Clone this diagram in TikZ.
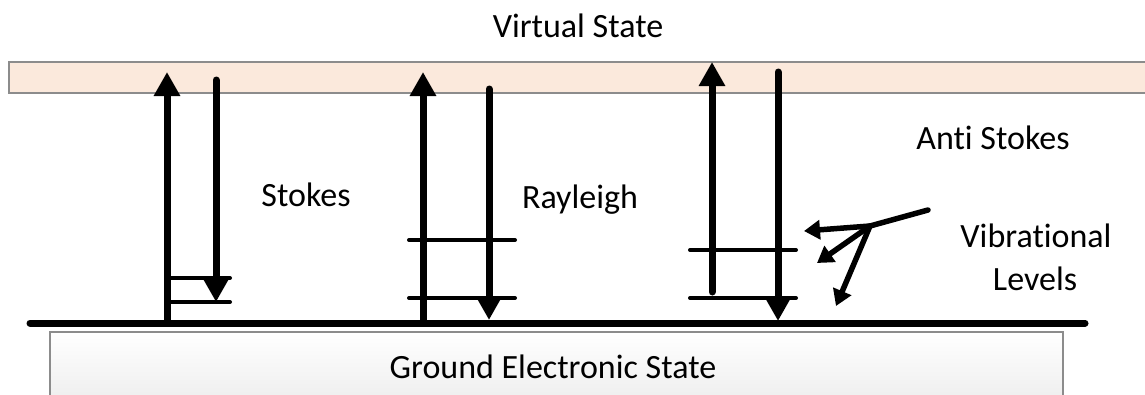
\documentclass[tikz,border=0pt]{standalone}
\usepackage{fontspec}
\setmainfont[Ligatures={NoCommon}]{Carlito}
\usetikzlibrary{arrows.meta}
\definecolor{bandfill}{RGB}{251,233,220}
\definecolor{boxedge}{RGB}{140,140,140}
\definecolor{boxbot}{RGB}{236,236,236}
\tikzset{
  lbl/.style={anchor=base, inner sep=0pt, font=\fontsize{34}{40}\selectfont},
  photon/.style={line width=7pt, line cap=round, -{Triangle[width=25pt,length=24pt]}},
  level/.style={line width=4pt, line cap=round},
  pointer/.style={line width=5.5pt, line cap=round, -{Triangle[width=19pt,length=16pt]}},
}
\begin{document}
\begin{tikzpicture}[x=1pt,y=-1pt]
\useasboundingbox (0,0) rectangle (1145,394);
\clip (0,0) rectangle (1145,394);
% virtual state band
\draw[boxedge, fill=bandfill, line width=1.2pt] (9,62) rectangle (1160,93);
\node[lbl] (vs) at (578,37) {Virtual State};
% ground electronic state box
\shade[top color=white, bottom color=boxbot] (50,332) rectangle (1063,410);
\draw[boxedge, line width=1.2pt] (50,410) -- (50,332) -- (1063,332) -- (1063,410);
\node[lbl] (ges) at (553,378) {Ground Electronic State};
% ground line
\coordinate (gl) at (30,323);
\coordinate (gr) at (1085,323);
\draw[line width=7pt, line cap=round] (gl) -- (gr);
% Stokes
\coordinate (s1) at (170,278); \coordinate (s1e) at (230,278);
\coordinate (s2) at (170,302); \coordinate (s2e) at (230,302);
\draw[level] (s1) -- (s1e);
\draw[level] (s2) -- (s2e);
\coordinate (su0) at (167,323); \coordinate (su1) at (167,72);
\coordinate (sd0) at (216,80); \coordinate (sd1) at (216,302);
\draw[photon, line cap=butt] (su0) -- (su1);
\draw[photon] (sd0) -- (sd1);
\node[lbl] (stokes) at (306,206) {Stokes};
% Rayleigh
\coordinate (r1) at (409,240); \coordinate (r1e) at (515,240);
\coordinate (r2) at (409,298); \coordinate (r2e) at (515,298);
\draw[level] (r1) -- (r1e);
\draw[level] (r2) -- (r2e);
\coordinate (ru0) at (423,323); \coordinate (ru1) at (423,72);
\coordinate (rd0) at (489,89); \coordinate (rd1) at (489,320);
\draw[photon] (ru0) -- (ru1);
\draw[photon] (rd0) -- (rd1);
\node[lbl] (rayleigh) at (580,208) {Rayleigh};
% Anti Stokes
\coordinate (a1) at (690,250); \coordinate (a1e) at (796,250);
\coordinate (a2) at (690,298); \coordinate (a2e) at (796,298);
\draw[level] (a1) -- (a1e);
\draw[level] (a2) -- (a2e);
\coordinate (au0) at (712,292); \coordinate (au1) at (712,62);
\coordinate (ad0) at (778,72); \coordinate (ad1) at (778,321);
\draw[photon] (au0) -- (au1);
\draw[photon] (ad0) -- (ad1);
\node[lbl] (anti) at (993,149) {Anti Stokes};
% vibrational levels pointers
\coordinate (p0) at (928,210);
\coordinate (pj) at (870,226);
\coordinate (pa) at (804,231);
\coordinate (pb) at (817,263);
\coordinate (pc) at (836,306);
\draw[pointer] (p0) -- (pj) -- (pa);
\draw[pointer] (pj) -- (pb);
\draw[pointer] (pj) -- (pc);
\node[lbl] (vib) at (1036,247) {Vibrational};
\node[lbl] (lev) at (1035,290) {Levels};
\end{tikzpicture}
\end{document}
